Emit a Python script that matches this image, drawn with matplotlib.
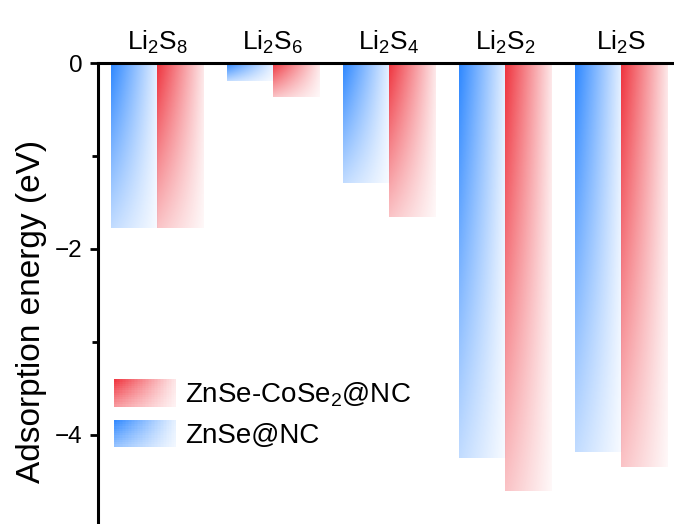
import numpy as np
import matplotlib
matplotlib.use('Agg')
import matplotlib.pyplot as plt
from matplotlib.patches import Rectangle
from matplotlib.legend_handler import HandlerBase

plt.rcParams['font.family'] = ['Liberation Sans', 'DejaVu Sans']
plt.rcParams['mathtext.fontset'] = 'custom'
plt.rcParams['mathtext.rm'] = 'Liberation Sans'
plt.rcParams['mathtext.it'] = 'Liberation Sans:italic'
plt.rcParams['mathtext.default'] = 'regular'

# data
species = ['Li$_2$S$_8$', 'Li$_2$S$_6$', 'Li$_2$S$_4$', 'Li$_2$S$_2$', 'Li$_2$S']
znse_nc = [-1.77, -0.19, -1.29, -4.25, -4.19]
znse_cose2_nc = [-1.77, -0.37, -1.66, -4.61, -4.35]
series_names = ['ZnSe@NC', 'ZnSe-CoSe$_2$@NC']

blue = (0.18, 0.53, 1.0)
red = (0.94, 0.2, 0.24)


def grad_rgba(color, nx=60, ny=120):
    xs = np.linspace(0, 1, nx)
    ys = np.linspace(0, 1, ny)
    X, Y = np.meshgrid(xs, ys)
    a = (1 - 0.88 * X) * (1 - 0.7 * Y)
    img = np.zeros((ny, nx, 4))
    img[..., 0] = color[0]
    img[..., 1] = color[1]
    img[..., 2] = color[2]
    img[..., 3] = a
    return img


def gradient_bars(ax, bars, color):
    for b in bars:
        x0 = b.get_x()
        w = b.get_width()
        y0 = b.get_y()
        h = b.get_height()
        # top of bar (0) is row 0
        ax.imshow(grad_rgba(color), extent=(x0, x0 + w, y0 + h, y0),
                  origin='upper', aspect='auto', interpolation='bilinear', zorder=2)


class GradientHandler(HandlerBase):
    def __init__(self, color):
        super().__init__()
        self.color = np.array(color)

    def create_artists(self, legend, orig_handle, xdescent, ydescent,
                       width, height, fontsize, trans):
        arts = []
        nx, ny = 40, 12
        for i in range(nx):
            for j in range(ny):
                fx = (i + 0.5) / nx
                fy = (j + 0.5) / ny
                a = (1 - 0.88 * fx) * (1 - 0.5 * fy)
                c = a * self.color + (1 - a) * np.ones(3)
                r = Rectangle((-xdescent + width * i / nx, -ydescent + height * (1 - (j + 1) / ny)),
                              width / nx * 1.3, height / ny * 1.3,
                              facecolor=c, edgecolor='none', transform=trans)
                arts.append(r)
        return arts


fig = plt.figure(figsize=(6.74, 5.24), dpi=100)
ax = fig.add_axes([98 / 674, 0.0, 1 - 98 / 674, 1 - 63 / 524])

x = np.arange(1, len(species) + 1)
w = 0.4
b1 = ax.bar(x - w / 2, znse_nc, w, facecolor='none', edgecolor='none')
b2 = ax.bar(x + w / 2, znse_cose2_nc, w, facecolor='none', edgecolor='none')
gradient_bars(ax, b1, blue)
gradient_bars(ax, b2, red)

ax.set_xlim(0.491, 5.457)
ax.set_ylim(-4.96, 0)

ax.spines['right'].set_visible(False)
ax.spines['bottom'].set_visible(False)
ax.spines['top'].set_linewidth(2.2)
ax.spines['left'].set_linewidth(2.2)
for s in ax.spines.values():
    s.set_zorder(5)

ax.xaxis.tick_top()
ax.set_xticks(x)
ax.set_xticklabels(species, fontsize=19)
ax.tick_params(axis='x', length=0, pad=5)

ax.set_yticks([0, -2, -4])
ax.set_yticks([-1, -3], minor=True)
ax.tick_params(axis='y', which='major', direction='out', length=5.5, width=2,
               labelsize=17.5, pad=5.8)
ax.tick_params(axis='y', which='minor', direction='out', length=4, width=2)
ax.set_ylabel('Adsorption energy (eV)', fontsize=24)
ax.yaxis.set_label_coords(-0.0885, 0.462)

h1 = Rectangle((0, 0), 1, 1)
h2 = Rectangle((0, 0), 1, 1)
ax.legend([h2, h1], [series_names[1], series_names[0]],
          handler_map={h2: GradientHandler(red), h1: GradientHandler(blue)},
          loc='upper left', bbox_to_anchor=(114 / 674, 1 - 380 / 524),
          bbox_transform=fig.transFigure, frameon=False, fontsize=20,
          handlelength=2.2, handleheight=1.1, labelspacing=0.4,
          handletextpad=0.35, borderpad=0, borderaxespad=0)

fig.savefig('out.png', dpi=100)
